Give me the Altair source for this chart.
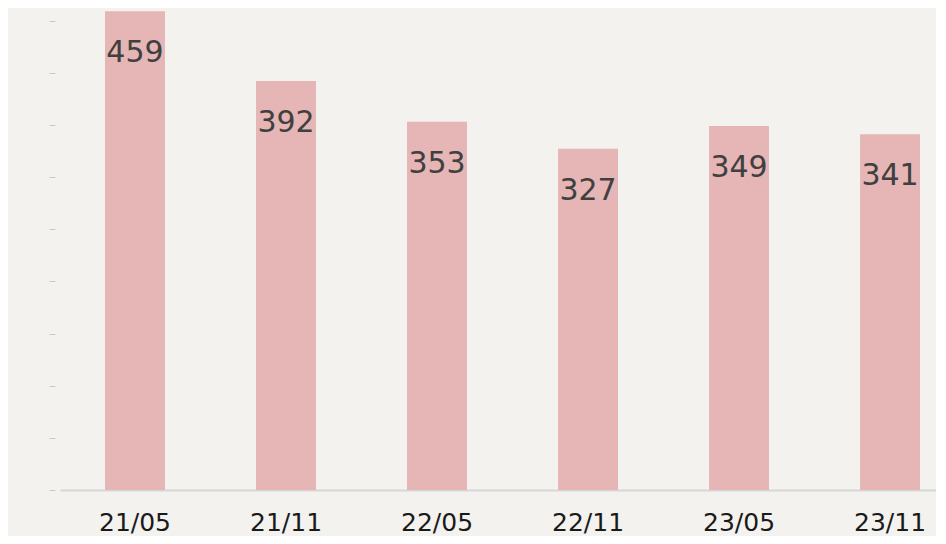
import altair as alt
import pandas as pd

categories = ["21/05", "21/11", "22/05", "22/11", "23/05", "23/11"]
values = [459, 392, 353, 327, 349, 341]

df = pd.DataFrame({"period": categories, "value": values})

x = alt.X("period:N", sort=categories, title=None,
          scale=alt.Scale(paddingInner=0.603, paddingOuter=0.202, align=0.738),
          axis=alt.Axis(labelAngle=0, ticks=False, labelFontSize=25, labelFont="DejaVu Sans",
                        labelColor="#1a1a1a", labelPadding=20, domainColor="#d6d6d6",
                        domainWidth=2))
y = alt.Y("value:Q", title=None,
          scale=alt.Scale(domain=[0, 462], nice=False),
          axis=alt.Axis(values=list(range(0, 451, 50)), labels=False, domain=False, grid=False,
                        tickColor="#c8c8c8", tickSize=6, offset=5))

bars = alt.Chart(df).mark_bar(color="#e6b5b5").encode(x=x, y=y)
labels = alt.Chart(df).mark_text(fontSize=30, font="DejaVu Sans", color="#404040",
                                 baseline="middle", dy=42).encode(x=x, y=y, text="value:Q")

chart = (bars + labels).properties(
    width=876, height=482,
    padding={"left": 52, "top": 0, "right": 0, "bottom": 46},
    autosize=alt.AutoSizeParams(type="none"),
    background="#f3f2ef",
).configure_view(stroke=None)

chart.save("out.html", embed_options={"renderer": "svg", "actions": False})
